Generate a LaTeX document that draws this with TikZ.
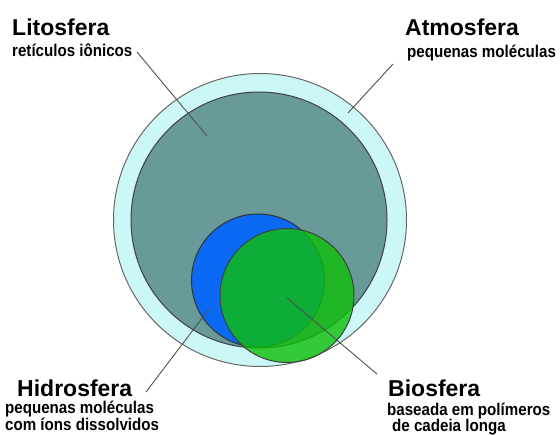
\documentclass[tikz,border=0pt]{standalone}
\usepackage{fontspec}
\setmainfont{Liberation Sans}
\definecolor{atmcyan}{HTML}{CCF7F7}
\definecolor{litteal}{HTML}{689A9A}
\definecolor{hidblue}{HTML}{0A6AF5}
\definecolor{biogreen}{HTML}{0EBE08}
\definecolor{leadgray}{HTML}{505050}

\begin{document}
\begin{tikzpicture}[x=1pt, y=-1pt,
  sphtitle/.style={anchor=base west, inner sep=0pt, font=\fontsize{23}{26}\selectfont\bfseries},
  sphsub/.style={anchor=base west, inner sep=0pt, xscale=0.89, transform shape,
    font=\fontsize{17}{19}\selectfont\bfseries},
  leader/.style={leadgray, line width=0.9pt}]

\useasboundingbox (0,0) rectangle (560,435);

% Atmosfera (outer ring)
\fill[atmcyan] (260,220) circle (146.5pt);
\draw[black!60, line width=1pt] (260,220) circle (146.5pt);

% Litosfera
\fill[litteal] (259,220) circle (128pt);
\draw[black!75, line width=1pt] (259,220) circle (128pt);

% Hidrosfera
\fill[hidblue] (258,280.5) circle (66.5pt);
\draw[black!80, line width=1pt] (258,280.5) circle (66.5pt);

% Biosfera (semi-transparent)
\fill[biogreen, opacity=0.8] (287,295.5) circle (67pt);
\draw[black!75, line width=1pt] (287,295.5) circle (67pt);

% Leader ends
\coordinate (litA) at (137,52);
\coordinate (litB) at (207,136);
\coordinate (atmA) at (393,64);
\coordinate (atmB) at (348,113);
\coordinate (hidA) at (209,309);
\coordinate (hidB) at (146,392);
\coordinate (bioA) at (287,298);
\coordinate (bioB) at (377,374);

\draw[leader] (litA) -- (litB);
\draw[leader] (atmA) -- (atmB);
\draw[leader] (hidA) -- (hidB);
\draw[leader] (bioA) -- (bioB);

% Labels
\node[sphtitle] (lito) at (12,36) {Litosfera};
\node[sphsub] (litosub) at (12,57) {retículos iônicos};

\node[sphtitle] (atmo) at (405,36) {Atmosfera};
\node[sphsub] (atmosub) at (407,58) {pequenas moléculas};

\node[sphtitle] (hidro) at (17,397) {Hidrosfera};
\node[sphsub] (hidrosub) at (5,414) {pequenas moléculas};
\node[sphsub] (hidrosubb) at (5,431) {com íons dissolvidos};

\node[sphtitle] (bio) at (388,397) {Biosfera};
\node[sphsub] (biosub) at (387,416) {baseada em polímeros};
\node[sphsub] (biosubb) at (392,432) {de cadeia longa};

\end{tikzpicture}
\end{document}
